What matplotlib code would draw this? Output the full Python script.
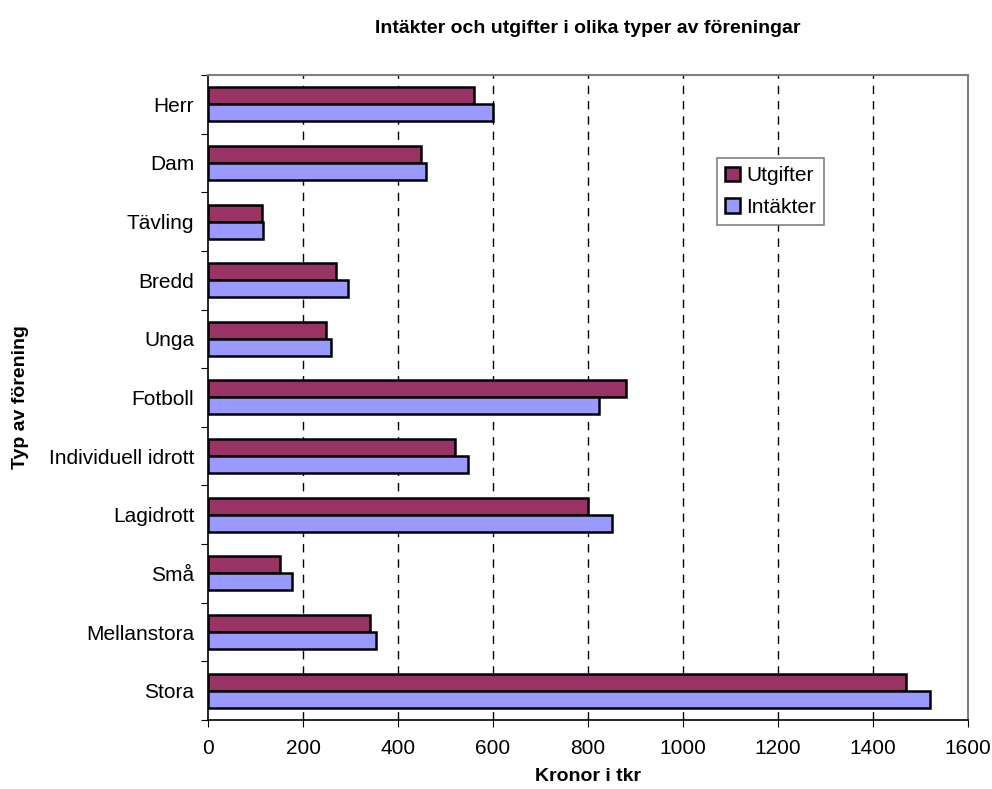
import matplotlib
matplotlib.use("Agg")
import matplotlib.pyplot as plt
import numpy as np

plt.rcParams['font.family'] = ['Liberation Sans', 'DejaVu Sans']

# data (tkr)
categories = ['Herr', 'Dam', 'Tävling', 'Bredd', 'Unga', 'Fotboll',
              'Individuell idrott', 'Lagidrott', 'Små', 'Mellanstora', 'Stora']
utgifter = [559, 448, 113, 270, 249, 881, 521, 800, 152, 342, 1470]
intakter = [599, 458, 116, 295, 258, 823, 547, 851, 177, 353, 1520]
x_ticks = [0, 200, 400, 600, 800, 1000, 1200, 1400, 1600]

fig = plt.figure(figsize=(9.92, 7.89), dpi=100)
ax = fig.add_axes([0.2097, 0.0875, 0.7661, 0.8175])

y = np.arange(len(categories))
h = 0.29
ax.barh(y - h / 2, utgifter, height=h, color='#993366', edgecolor='black',
        linewidth=1.8, label='Utgifter', zorder=3)
ax.barh(y + h / 2, intakter, height=h, color='#9999FF', edgecolor='black',
        linewidth=1.8, label='Intäkter', zorder=3)

ax.set_xlim(0, 1600)
ax.set_ylim(len(categories) - 0.5, -0.5)
ax.set_xticks(x_ticks)
ax.tick_params(axis='x', labelsize=15, length=5, direction='out', pad=9)

# category labels in the middle, tick marks between categories
ax.set_yticks(np.arange(-0.5, len(categories)), labels=[])
ax.set_yticks(y, labels=categories, minor=True)
ax.tick_params(axis='y', which='major', length=5, direction='out')
ax.tick_params(axis='y', which='minor', length=0, labelsize=15, pad=10)

for v in x_ticks[1:-1]:
    ax.axvline(v, color='black', linestyle=(0, (6, 5)), linewidth=1, zorder=1)

for side in ['top', 'right']:
    ax.spines[side].set_color('#808080')
    ax.spines[side].set_linewidth(1.5)
for side in ['left', 'bottom']:
    ax.spines[side].set_linewidth(1.2)

ax.set_xlabel('Kronor i tkr', fontsize=14, fontweight='bold', labelpad=7)
ax.set_ylabel('Typ av förening', fontsize=14, fontweight='bold', labelpad=14)
ax.set_title('Intäkter och utgifter i olika typer av föreningar',
             fontsize=14, fontweight='bold', pad=30)

leg = ax.legend(loc='upper left', bbox_to_anchor=(717 / 992, 1 - 158 / 789),
                bbox_transform=fig.transFigure, fontsize=15, fancybox=False,
                edgecolor='#808080', framealpha=1, handlelength=0.7,
                handleheight=0.7, handletextpad=0.3, borderpad=0.4,
                labelspacing=0.6, borderaxespad=0)
leg.get_frame().set_linewidth(1.2)

fig.savefig('out.png', dpi=100)
